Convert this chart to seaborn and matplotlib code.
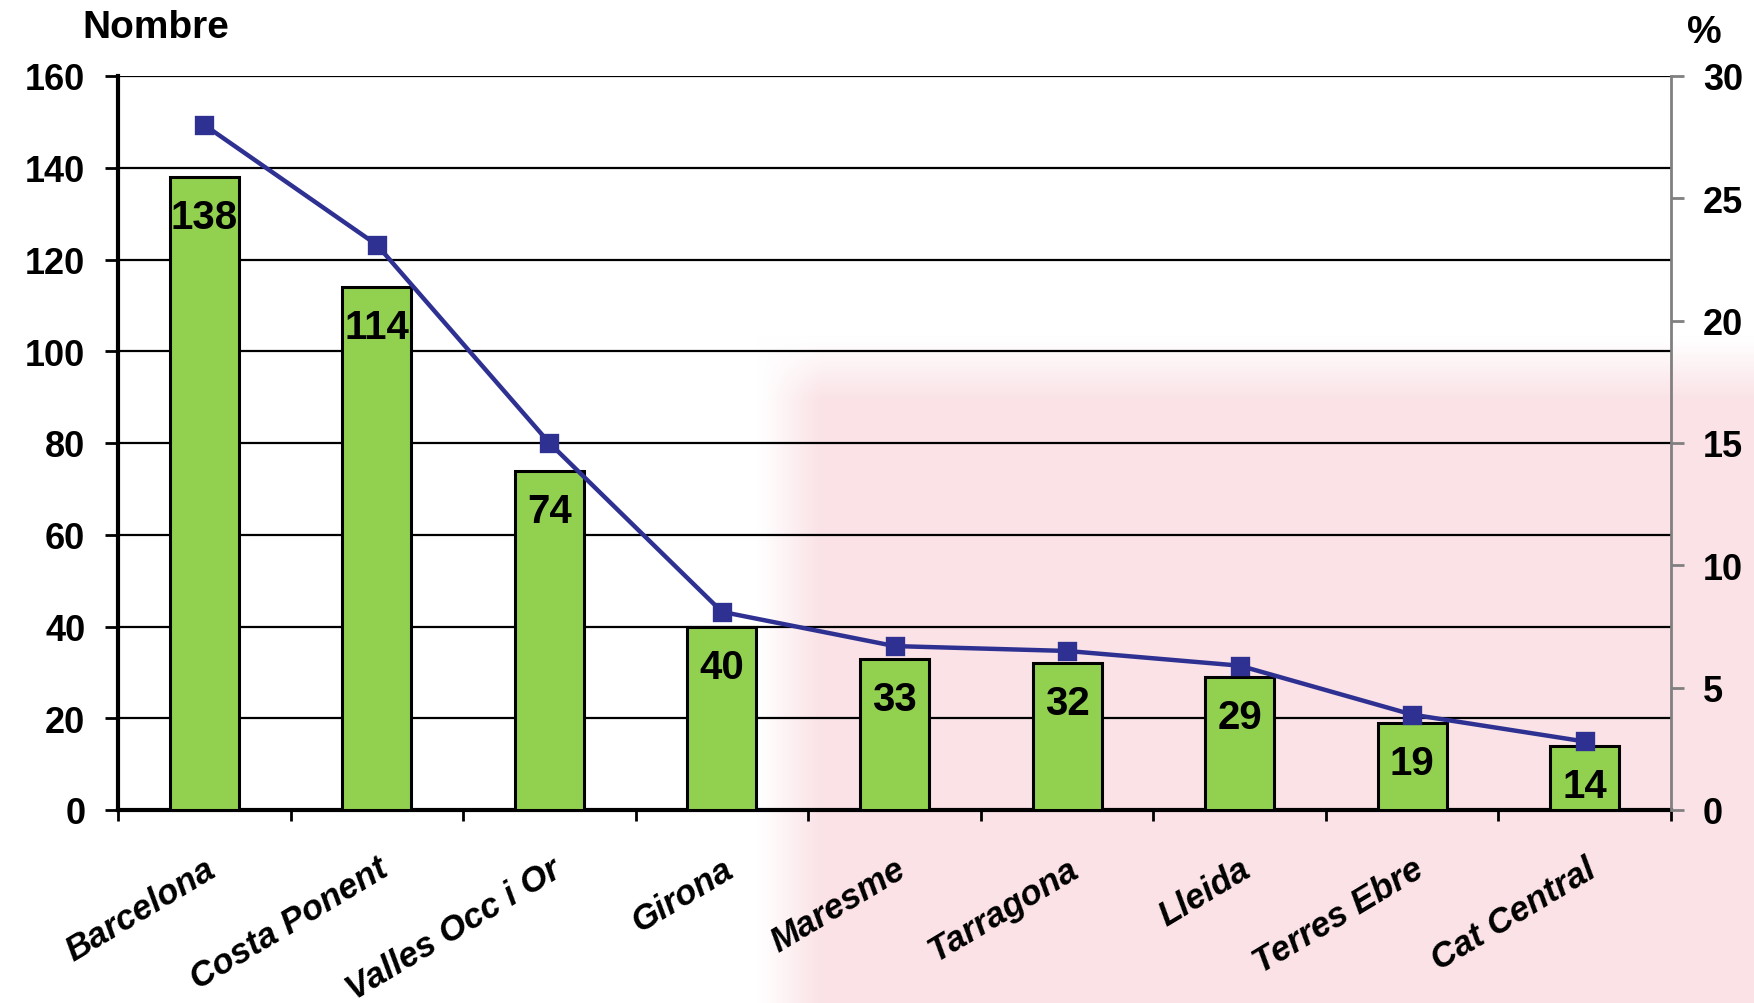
import matplotlib
matplotlib.use("Agg")
import matplotlib.pyplot as plt
import seaborn as sns
import numpy as np
import pandas as pd

categories = ["Barcelona", "Costa Ponent", "Valles Occ i Or", "Girona", "Maresme",
              "Tarragona", "Lleida", "Terres Ebre", "Cat Central"]
counts = [138, 114, 74, 40, 33, 32, 29, 19, 14]
percents = [28.0, 23.1, 15.0, 8.1, 6.7, 6.5, 5.9, 3.9, 2.8]
left_ticks = [0, 20, 40, 60, 80, 100, 120, 140, 160]
right_ticks = [0, 5, 10, 15, 20, 25, 30]

sns.set_theme(style="white")
plt.rcParams['font.family'] = ['Liberation Sans', 'DejaVu Sans']
plt.rcParams['font.weight'] = 'bold'
plt.rcParams['text.color'] = 'black'
plt.rcParams['axes.labelcolor'] = 'black'
plt.rcParams['xtick.color'] = 'black'
plt.rcParams['ytick.color'] = 'black'

df = pd.DataFrame({"cat": categories, "n": counts, "pct": percents})

fig = plt.figure(figsize=(17.54, 10.04), dpi=100)

# soft, faint watermark-like backdrop (decoration only)
bg = fig.add_axes([0, 0, 1, 1], zorder=-5)
bg.set_axis_off()
W, H = 351, 201
xx = np.linspace(0, 1754, W)[None, :]
yy = np.linspace(0, 1004, H)[:, None]
wx = np.clip((xx - 760) / 60, 0, 1)
wy = np.clip((yy - 340) / 60, 0, 1)
w = (wx * wy) * 0.75
pink = np.array([0.976, 0.85, 0.87])
img = 1 - w[..., None] * (1 - pink[None, None, :])
bg.imshow(img, extent=[0, 1, 0, 1], origin='upper', aspect='auto', interpolation='bilinear')
bg.set_xlim(0, 1)
bg.set_ylim(0, 1)

ax = fig.add_axes([118/1754, 1 - 811/1004, (1671-118)/1754, (811-77)/1004])
ax.patch.set_visible(False)

sns.barplot(data=df, x="cat", y="n", order=categories, color="#92D050",
            width=0.4, edgecolor="black", linewidth=2.2, saturation=1, ax=ax, zorder=3)

ax.set_ylim(0, 160)
ax.set_yticks(left_ticks)
ax.yaxis.grid(True, color="black", linewidth=1.6, zorder=0)
ax.set_axisbelow(True)
ax.set_xlim(-0.5, len(categories) - 0.5)
ax.set_xlabel("")
ax.set_ylabel("")

for side in ["top", "right"]:
    ax.spines[side].set_visible(False)
ax.spines["left"].set_linewidth(3)
ax.spines["bottom"].set_linewidth(3)
ax.spines["left"].set_color("black")
ax.spines["bottom"].set_color("black")

ax.tick_params(axis='y', which='major', length=9.5, width=2, color='black', pad=14,
               labelsize=26, left=True, labelcolor='black')
ax.set_yticklabels([str(t) for t in left_ticks], fontsize=26, fontweight='bold')

# category labels at centers, tick marks at boundaries
ax.set_xticks(np.arange(len(categories)))
ax.set_xticklabels(categories, rotation=31, ha='right', rotation_mode='anchor',
                   fontsize=25, fontweight='bold', fontstyle='italic')
ax.tick_params(axis='x', which='major', length=0, pad=30, labelcolor='black')
ax.set_xticks(np.arange(len(categories) + 1) - 0.5, minor=True)
ax.tick_params(axis='x', which='minor', length=8, width=2, color='black', bottom=True)

for i, v in enumerate(counts):
    ax.annotate(str(v), (i, v), xytext=(0, -29), textcoords='offset points',
                ha='center', va='center', fontsize=29, fontweight='bold',
                color='black', zorder=5)

ax2 = ax.twinx()
ax2.patch.set_visible(False)
sns.pointplot(data=df, x="cat", y="pct", order=categories, color="#2E3192",
              markers="s", markersize=11, linewidth=3.2, errorbar=None, ax=ax2)
ax2.set_ylim(0, 30)
ax2.set_yticks(right_ticks)
ax2.set_yticklabels([str(t) for t in right_ticks], fontsize=26, fontweight='bold')
ax2.set_xlim(-0.5, len(categories) - 0.5)
ax2.set_xlabel("")
ax2.set_ylabel("")
for side in ["top", "left", "bottom"]:
    ax2.spines[side].set_visible(False)
ax2.spines["right"].set_color("#808080")
ax2.spines["right"].set_linewidth(2)
ax2.tick_params(axis='y', length=9, width=2, color='#808080', labelcolor='black', pad=14, right=True)

fig.text(82/1754, 1 - 28/1004, "Nombre", ha='left', va='center', fontsize=28, fontweight='bold')
fig.text(1704/1754, 1 - 33/1004, "%", ha='center', va='center', fontsize=28, fontweight='bold')

fig.savefig("out.png", dpi=100)
